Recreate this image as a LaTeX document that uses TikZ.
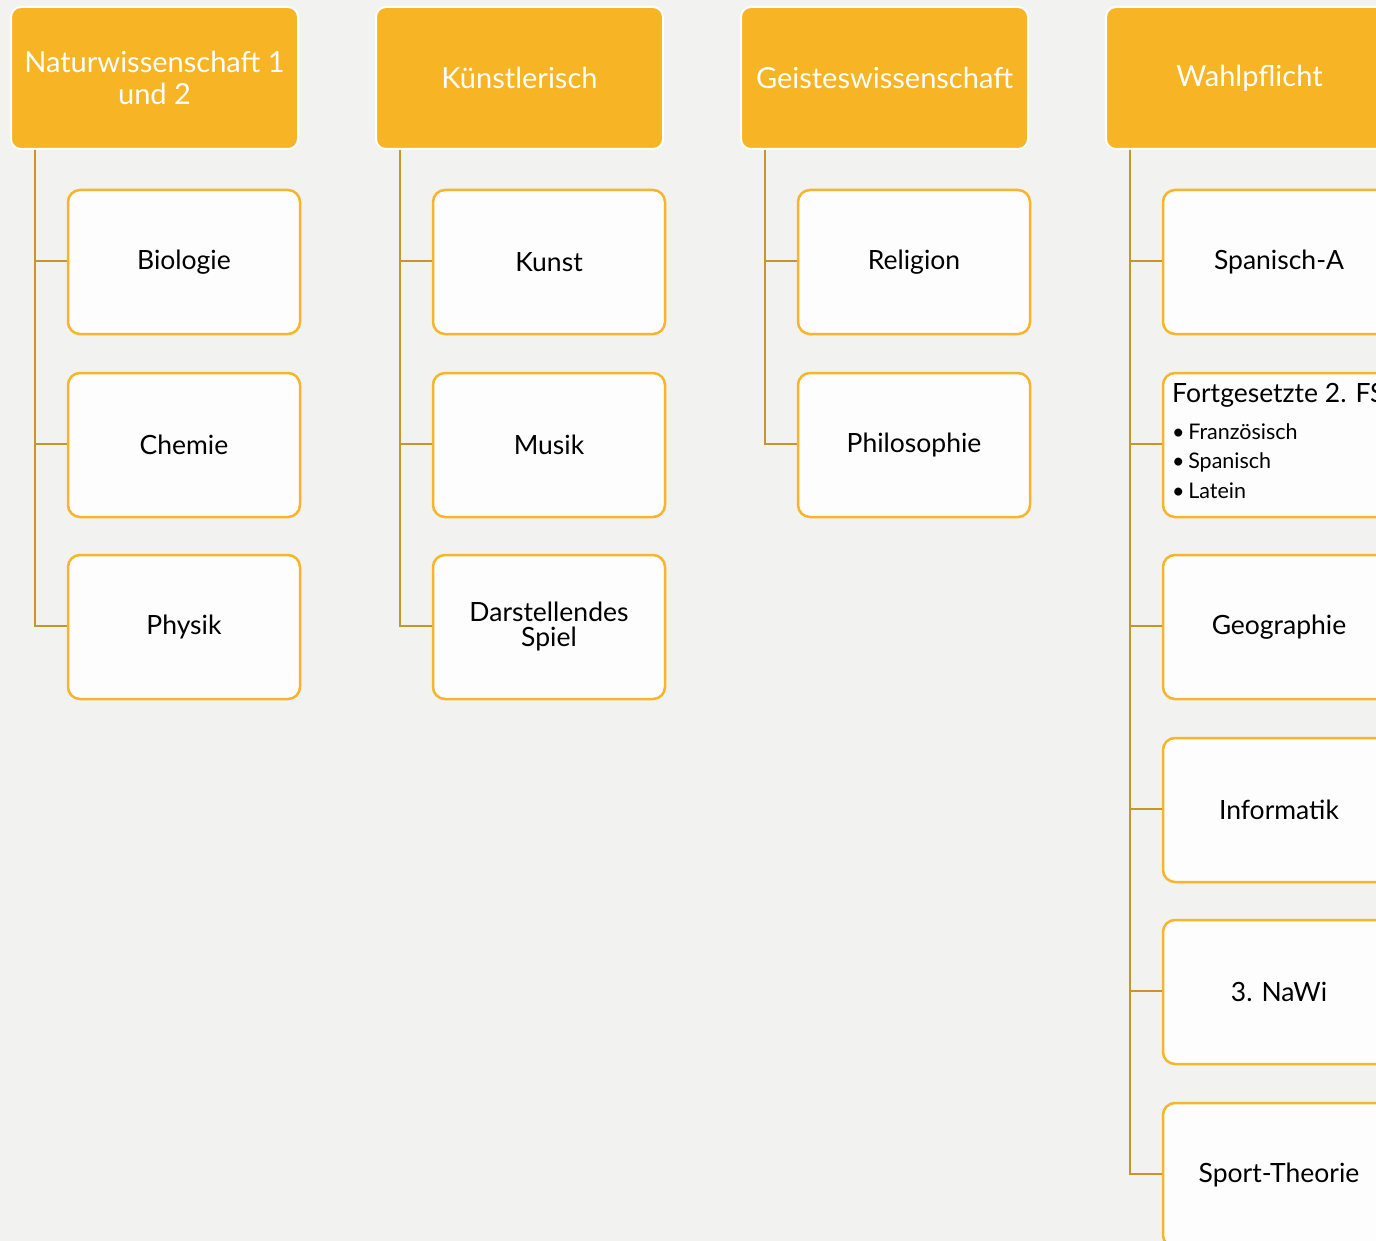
\documentclass[tikz,border=0pt]{standalone}
\usepackage{fontspec}
\setmainfont{Lato}
\definecolor{bg}{HTML}{F2F2F0}
\definecolor{headfill}{HTML}{F7B425}
\definecolor{childline}{HTML}{F7B52C}
\definecolor{conn}{HTML}{C8952A}
\definecolor{childfill}{HTML}{FDFDFD}
\begin{document}
\begin{tikzpicture}[x=1pt,y=-1pt,
  headbox/.style={draw=white,line width=2pt,fill=headfill,rounded corners=10pt,
    minimum width=287pt,minimum height=142pt,text=white,align=center,
    font=\fontsize{29}{34}\selectfont,inner sep=0pt},
  childbox/.style={draw=childline,line width=2.5pt,fill=childfill,rounded corners=12pt,
    minimum width=232pt,minimum height=144pt,text=black,align=center,
    font=\fontsize{26.5}{26}\selectfont,inner sep=0pt},
  connline/.style={draw=conn,line width=2.5pt},
  bul/.style={font=\fontsize{21.5}{29.5}\selectfont,align=left,anchor=north west,inner sep=0pt}]
\useasboundingbox (0,0) rectangle (1376,1241);
\clip (0,0) rectangle (1376,1241);
\fill[bg] (0,0) rectangle (1376,1241);
% headers
\node[headbox] (h1) at (154.5,78) {Naturwissenschaft 1\\[-2pt]und 2};
\node[headbox] (h2) at (519.5,78) {Künstlerisch};
\node[headbox] (h3) at (884.5,78) {Geisteswissenschaft};
\node[headbox] (h4) at (1249.5,78) {Wahlpflicht};
% column 1
\node[childbox] (c11) at (184,262) {Biologie};
\node[childbox] (c12) at (184,445) {Chemie};
\node[childbox] (c13) at (184,627) {Physik};
% column 2
\node[childbox] (c21) at (549,262) {Kunst};
\node[childbox] (c22) at (549,445) {Musik};
\node[childbox] (c23) at (549,627) {Darstellendes\\[-1pt]Spiel};
% column 3
\node[childbox] (c31) at (914,262) {Religion};
\node[childbox] (c32) at (914,445) {Philosophie};
% column 4
\node[childbox] (c41) at (1279,262) {Spanisch-A};
\node[childbox] (c42) at (1279,445) {};
\node[childbox] (c43) at (1279,627) {Geographie};
\node[childbox] (c44) at (1279,810) {Informatik};
\node[childbox] (c45) at (1279,992) {3. NaWi};
\node[childbox] (c46) at (1279,1175) {Sport-Theorie};
\node[anchor=base west,inner sep=0pt,font=\fontsize{26.5}{26}\selectfont] (fst) at (1172,402) {Fortgesetzte 2. FS};
\node[bul] (fsl) at (1172,423) {•\,Französisch\\•\,Spanisch\\•\,Latein};
% connectors
\foreach \h/\c in {h1/c11,h1/c12,h1/c13,h2/c21,h2/c22,h2/c23,h3/c31,h3/c32,h4/c41,h4/c42,h4/c43,h4/c44,h4/c45,h4/c46}{
  \draw[connline] ([xshift=25pt]\h.south west) |- ([yshift=1pt]\c.west);
}
\end{tikzpicture}
\end{document}
